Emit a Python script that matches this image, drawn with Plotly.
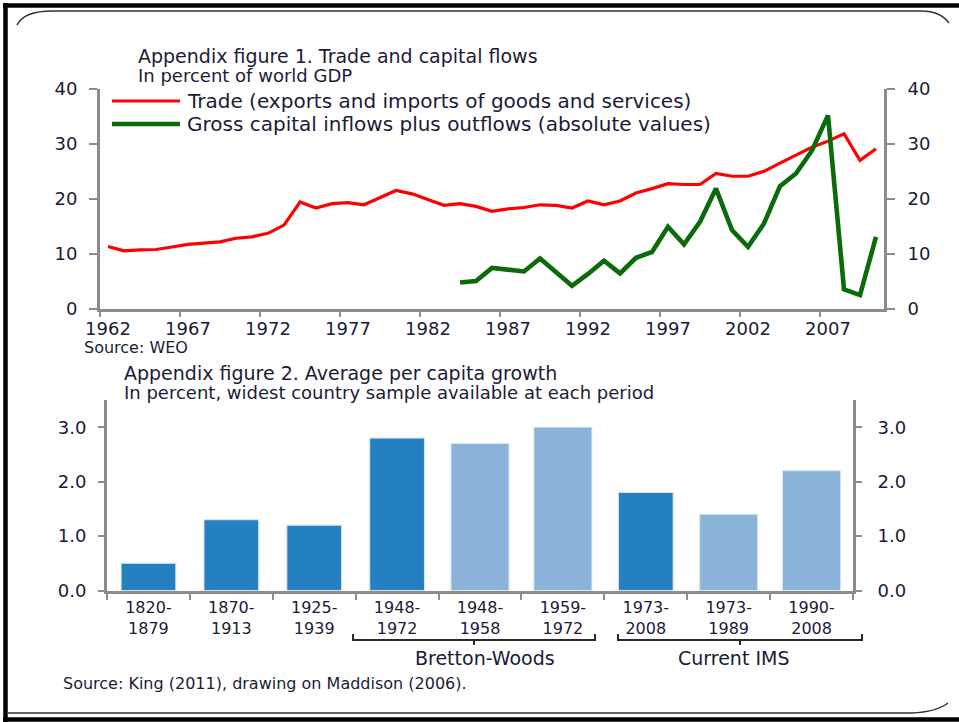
import plotly.graph_objects as go

# ---------------- data ----------------
trade_years = list(range(1962, 2011))
trade_values = [11.3, 10.5, 10.7, 10.75, 11.2, 11.7, 11.9, 12.15, 12.8, 13.05,
                13.7, 15.2, 19.4, 18.3, 19.1, 19.3, 18.9, 20.2, 21.5, 20.9,
                19.85, 18.8, 19.1, 18.6, 17.7, 18.15, 18.4, 18.9, 18.8, 18.3,
                19.6, 18.9, 19.6, 21.05, 21.85, 22.75, 22.6, 22.6, 24.6, 24.1,
                24.1, 25.0, 26.5, 28.0, 29.4, 30.5, 31.85, 27.0, 29.1]

capital_years = list(range(1984, 2011))
capital_values = [4.75, 5.0, 7.4, 7.0, 6.75, 9.1, 6.7, 4.15, 6.3, 8.7,
                  6.4, 9.25, 10.3, 14.9, 11.7, 15.8, 21.85, 14.3, 11.25, 15.5,
                  22.3, 24.6, 28.8, 35.2, 3.5, 2.45, 13.05]

top_tick_years = [1962, 1967, 1972, 1977, 1982, 1987, 1992, 1997, 2002, 2007]
top_y_ticks = [0, 10, 20, 30, 40]

periods = ["1820-<br>1879", "1870-<br>1913", "1925-<br>1939", "1948-<br>1972",
           "1948-<br>1958", "1959-<br>1972", "1973-<br>2008", "1973-<br>1989",
           "1990-<br>2008"]
growth = [0.5, 1.3, 1.2, 2.8, 2.7, 3.0, 1.8, 1.4, 2.2]
is_subperiod = [False, False, False, False, True, True, False, True, True]
bottom_y_ticks = [0, 1, 2, 3]

groups = ["Bretton-Woods", "Current IMS"]

# ---------------- style ----------------
W, H = 959, 722
FONT = "DejaVu Sans"
TXT = "#1b1b38"
AX = "#8c8c8c"
RED = "#ff0000"
GREEN = "#0b6b0b"
DARK_BLUE = "#2580c1"
LIGHT_BLUE = "#8ab3d9"


def px(x):
    return x / W


def py(y):
    return 1 - y / H


fig = go.Figure()

fig.add_trace(go.Scatter(x=trade_years, y=trade_values, mode="lines",
                         line=dict(color=RED, width=3.2), xaxis="x", yaxis="y",
                         name="Trade", hoverinfo="x+y"))
fig.add_trace(go.Scatter(x=capital_years, y=capital_values, mode="lines",
                         line=dict(color=GREEN, width=4.6), xaxis="x", yaxis="y2",
                         name="Gross capital flows", hoverinfo="x+y"))

bar_colors = [LIGHT_BLUE if s else DARK_BLUE for s in is_subperiod]
bar_widths = [0.7 if s else 0.66 for s in is_subperiod]
fig.add_trace(go.Bar(x=periods, y=growth, marker=dict(color=bar_colors,
                     line=dict(color="#d6e5f3", width=1)),
                     width=bar_widths, xaxis="x2", yaxis="y3", hoverinfo="y"))
fig.add_trace(go.Scatter(x=[], y=[], xaxis="x2", yaxis="y4", showlegend=False,
                         hoverinfo="skip"))

tickfont = dict(family=FONT, size=18, color=TXT)
common_axis = dict(showline=True, linewidth=3, linecolor=AX, ticks="outside",
                   tickcolor=AX, tickwidth=2, showgrid=False, zeroline=False,
                   fixedrange=True, automargin=False)

top_xdom = [px(100), px(884)]
top_ydom = [py(308.5), py(89)]
bot_xdom = [px(107), px(853)]
bot_ydom = [py(590.5), py(400)]

fig.update_layout(
    width=W, height=H, margin=dict(l=0, r=0, t=0, b=0, autoexpand=False),
    paper_bgcolor="white", plot_bgcolor="rgba(0,0,0,0)",
    showlegend=False, bargap=0.3,
    xaxis=dict(domain=top_xdom, anchor="y", range=[1961.5, 2010.5],
               tickvals=[t - 0.5 for t in top_tick_years],
               ticktext=[str(t) for t in top_tick_years],
               ticklen=5, ticklabelshift=8, ticklabelstandoff=-3,
               tickfont=tickfont, **common_axis),
    yaxis=dict(domain=top_ydom, anchor="x", range=[0, 40], tickvals=top_y_ticks,
               ticklen=8, ticklabelstandoff=8, tickfont=tickfont, **common_axis),
    yaxis2=dict(domain=top_ydom, anchor="x", overlaying="y", side="right",
                range=[0, 40], tickvals=top_y_ticks, ticklen=8,
                ticklabelstandoff=9, tickfont=tickfont, **common_axis),
    xaxis2=dict(domain=bot_xdom, anchor="y3", type="category",
                range=[-0.5, len(periods) - 0.5], tickson="boundaries",
                ticklen=6, tickfont=dict(family=FONT, size=16, color=TXT),
                **common_axis),
    yaxis3=dict(domain=bot_ydom, anchor="x2", range=[0, 3.5],
                tickvals=bottom_y_ticks, tickformat=".1f", ticklen=6,
                ticklabelstandoff=8, tickfont=tickfont, **common_axis),
    yaxis4=dict(domain=bot_ydom, anchor="x2", overlaying="y3", side="right",
                range=[0, 3.5], tickvals=bottom_y_ticks, tickformat=".1f",
                ticklen=6, ticklabelstandoff=12, tickfont=tickfont, **common_axis),
)

ann = []


def text(x, y, s, size, anchor="left", color=TXT):
    ann.append(dict(x=px(x), y=py(y), xref="paper", yref="paper", text=s,
                    showarrow=False, xanchor=anchor, yanchor="middle",
                    font=dict(family=FONT, size=size, color=color)))


text(136, 56, "Appendix figure 1. Trade and capital flows", 19)
text(136, 75, "In percent of world GDP", 18)
text(185, 101, "Trade (exports and imports of goods and services)", 20)
text(185, 124, "Gross capital inflows plus outflows (absolute values)", 20)
text(82, 347, "Source: WEO", 16)
text(122, 373, "Appendix figure 2. Average per capita growth", 19)
text(122, 392, "In percent, widest country sample available at each period", 18)
text(485, 658, groups[0], 19, anchor="center")
text(733, 658, groups[1], 19, anchor="center")
text(61, 683, "Source: King (2011), drawing on Maddison (2006).", 16)

shapes = []
# legend swatches
shapes.append(dict(type="line", xref="paper", yref="paper", x0=px(112), x1=px(180),
                   y0=py(101), y1=py(101), line=dict(color=RED, width=3.2)))
shapes.append(dict(type="line", xref="paper", yref="paper", x0=px(112), x1=px(180),
                   y0=py(124), y1=py(124), line=dict(color=GREEN, width=4.6)))


def bracket(x0, x1, xc):
    path = (f"M{px(x0)},{py(634)} L{px(x0)},{py(640)} L{px(x1)},{py(640)} "
            f"L{px(x1)},{py(634)} M{px(xc)},{py(640)} L{px(xc)},{py(645)}")
    shapes.append(dict(type="path", xref="paper", yref="paper", path=path,
                       line=dict(color="#2a2a2a", width=2)))


bracket(353, 595, 474)
bracket(618, 862, 740)

# slide frame (top, left, bottom edges; right edge lies outside the picture)
for (x0, y0, x1, y1) in [(3, 5.5, 965, 5.5), (5.5, 3, 5.5, 722),
                         (3, 719.5, 965, 719.5)]:
    shapes.append(dict(type="line", xref="paper", yref="paper",
                       x0=px(x0), x1=px(x1), y0=py(y0), y1=py(y1),
                       line=dict(color="black", width=4.5), layer="above"))
top_curve = (f"M{px(17)},{py(25)} Q{px(24)},{py(11)} {px(52)},{py(11)} "
             f"L{px(922)},{py(11)} Q{px(940)},{py(11)} {px(949)},{py(23)}")
bot_curve = (f"M{px(8)},{py(713)} L{px(912)},{py(713)} "
             f"Q{px(936)},{py(712)} {px(948)},{py(703)}")
for p in (top_curve, bot_curve):
    shapes.append(dict(type="path", xref="paper", yref="paper", path=p,
                       line=dict(color="#333333", width=1.5)))

fig.update_layout(annotations=ann, shapes=shapes)

fig.write_html("out.html", config={"displayModeBar": False},
               post_script="document.body.style.margin='0px';"
                           "document.body.style.overflow='hidden';")
